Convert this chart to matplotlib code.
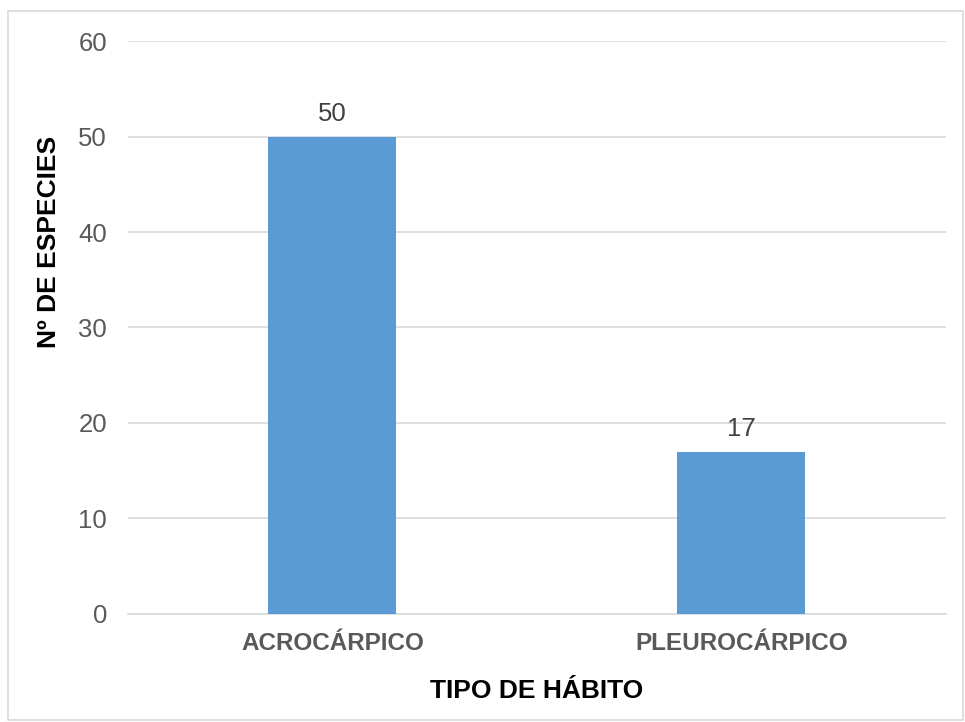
import matplotlib
matplotlib.use("Agg")
import matplotlib.pyplot as plt
from matplotlib.patches import Rectangle

categories = ["ACROCÁRPICO", "PLEUROCÁRPICO"]
species = [50, 17]
yticks = [0, 10, 20, 30, 40, 50, 60]

plt.rcParams["font.family"] = ["Liberation Sans", "DejaVu Sans"]

fig = plt.figure(figsize=(9.65, 7.22), dpi=100)
ax = fig.add_axes([0.1326, 0.1496, 0.8477, 0.7936])

x = range(len(categories))
ax.bar(x, species, width=0.313, color="#5B9BD5", zorder=3)
for xi, v in zip(x, species):
    ax.text(xi, v + 1.15, str(v), ha="center", va="bottom",
            fontsize=18.5, color="#404040")

ax.set_xlim(-0.5, 1.5)
ax.set_ylim(0, 60)
ax.set_yticks(yticks)
ax.set_yticklabels([str(t) for t in yticks], fontsize=18.5, color="#595959")
ax.set_xticks(list(x))
ax.set_xticklabels(categories, fontsize=17.5, fontweight="bold", color="#595959")
ax.tick_params(axis="both", length=0)
ax.tick_params(axis="y", pad=15)
ax.tick_params(axis="x", pad=13)

ax.grid(axis="y", color="#D9D9D9", linewidth=1.2, zorder=0)
for side in ("top", "right", "left"):
    ax.spines[side].set_visible(False)
ax.spines["bottom"].set_color("#D9D9D9")
ax.spines["bottom"].set_linewidth(1.2)

ax.set_xlabel("TIPO DE HÁBITO", fontsize=19, fontweight="bold", labelpad=17)
ax.set_ylabel("Nº DE ESPECIES", fontsize=19, fontweight="bold")
# y title sits above the middle of the axis
ax.yaxis.set_label_coords(-0.0823, 0.649)

# light frame around the whole chart area
fig.patches.append(Rectangle((8 / 965, 2 / 722), 955 / 965, 709 / 722,
                             transform=fig.transFigure, fill=False,
                             edgecolor="#D9D9D9", linewidth=1.2))

fig.savefig("out.png", dpi=100)
